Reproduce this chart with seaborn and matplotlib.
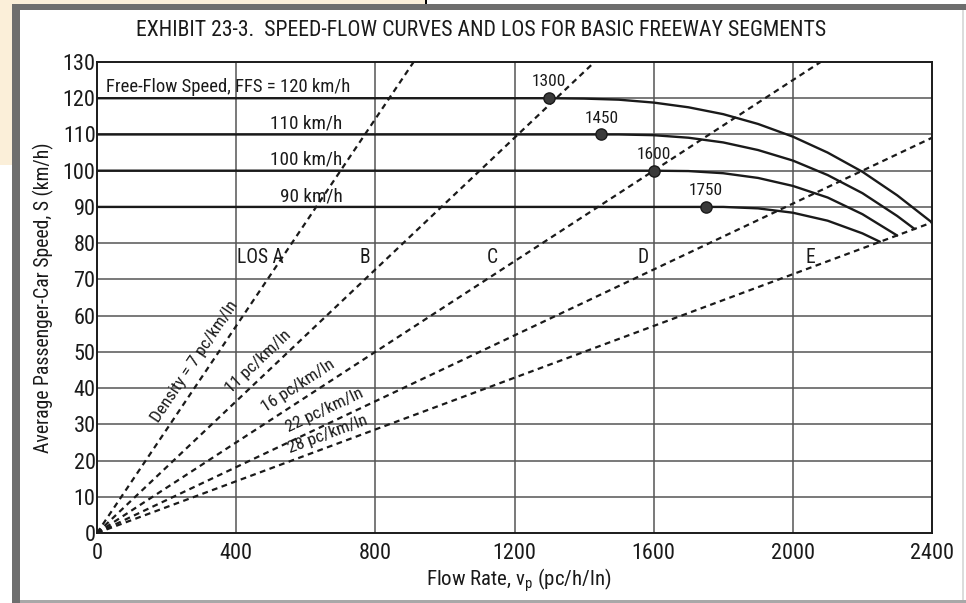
import numpy as np
import pandas as pd
import matplotlib
matplotlib.use('Agg')
import matplotlib.pyplot as plt
from matplotlib.patches import Rectangle
import seaborn as sns

# Speed-flow curves (flow in pc/h/ln, speed in km/h)
flow_120 = [0, 1300, 1400, 1500, 1600, 1700, 1800, 1900, 2000, 2100, 2200, 2300, 2400]
speed_120 = [120, 120, 119.9, 119.6, 118.8, 117.5, 115.6, 112.9, 109.4, 105.0, 99.7, 93.2, 85.7]
flow_110 = [0, 1450, 1500, 1600, 1700, 1800, 1900, 2000, 2100, 2200, 2300, 2350]
speed_110 = [110, 110, 110.0, 109.8, 109.1, 107.8, 105.7, 102.8, 98.8, 93.8, 87.5, 83.9]
flow_100 = [0, 1600, 1700, 1800, 1900, 2000, 2100, 2200, 2300]
speed_100 = [100, 100, 99.9, 99.3, 98.0, 95.8, 92.6, 88.0, 82.1]
flow_90 = [0, 1750, 1800, 1900, 2000, 2100, 2200, 2250]
speed_90 = [90, 90, 90.0, 89.6, 88.4, 86.2, 82.7, 80.4]

# breakpoints where the curves leave free-flow speed
bp_flow = [1300, 1450, 1600, 1750]
bp_speed = [120, 110, 100, 90]

# LOS boundary densities (pc/km/ln)
densities = [7, 11, 16, 22, 28]
density_labels = ['Density = 7 pc/km/ln', '11 pc/km/ln', '16 pc/km/ln',
                  '22 pc/km/ln', '28 pc/km/ln']
los_labels = ['LOS A', 'B', 'C', 'D', 'E']
ffs_labels = ['Free-Flow Speed, FFS = 120 km/h', '110 km/h', '100 km/h', '90 km/h']

x_ticks = [0, 400, 800, 1200, 1600, 2000, 2400]
y_ticks = list(range(0, 131, 10))

W, H = 966, 603
INK = '#1a1a1a'
GRID = '#555555'

sns.set_theme(style='white')
plt.rcParams['font.family'] = ['Liberation Sans Narrow', 'Roboto Condensed', 'Arial Narrow',
                               'Liberation Sans', 'DejaVu Sans']
plt.rcParams['text.color'] = INK


def box(x0, y0, x1, y1):
    """pixel box (top-left origin) -> figure fraction rectangle"""
    return (x0 / W, 1 - y1 / H), (x1 - x0) / W, (y1 - y0) / H


fig = plt.figure(figsize=(W / 100, H / 100), dpi=100)
fig.patch.set_facecolor('white')
renderer = fig.canvas.get_renderer()


def size_for(text, width_px, base=20):
    """font size that makes `text` about width_px wide with whatever font got picked"""
    probe = fig.text(0, 0, text, fontsize=base)
    w = probe.get_window_extent(renderer).width
    probe.remove()
    return base * width_px / w


# slide background and scan frame
for (x0, y0, x1, y1), col in [((0, 0, 426, 4), '#fbefd9'),
                              ((0, 0, 12, 165), '#fbefd9'),
                              ((425, 0, 427, 4), '#000000'),
                              ((12, 4, 966, 10), '#6e6e6e'),
                              ((12, 4, 20, 603), '#6e6e6e'),
                              ((20, 600, 966, 603), '#a8a8a8'),
                              ((962, 10, 964, 600), '#dcdcdc')]:
    xy, w, h = box(x0, y0, x1, y1)
    fig.patches.append(Rectangle(xy, w, h, transform=fig.transFigure,
                                 facecolor=col, edgecolor='none', zorder=0))

(ax_x, ax_y), ax_w, ax_h = box(97, 62, 932, 533)
ax = fig.add_axes([ax_x, ax_y, ax_w, ax_h])
ax.set_xlim(0, 2400)
ax.set_ylim(0, 130)

# grid
for xv in x_ticks[1:-1]:
    ax.axvline(xv, color=GRID, lw=1.1, zorder=1)
for yv in y_ticks[1:-1]:
    ax.axhline(yv, color=GRID, lw=1.1, zorder=1)

# density rays from origin, clipped at the plot frame
for d in densities:
    end = min(2400, 130 * d)
    ray = pd.DataFrame({'flow': [0, end], 'speed': [0, end / d]})
    sns.lineplot(data=ray, x='flow', y='speed', ax=ax, color=INK, lw=1.6,
                 linestyle=(0, (2.6, 2.0)), sort=False, estimator=None, zorder=3)

# speed-flow curves
curves = pd.concat([
    pd.DataFrame({'flow': f, 'speed': s, 'ffs': k})
    for f, s, k in [(flow_120, speed_120, 120), (flow_110, speed_110, 110),
                    (flow_100, speed_100, 100), (flow_90, speed_90, 90)]
])
sns.lineplot(data=curves, x='flow', y='speed', hue='ffs', units='ffs',
             palette=[INK] * 4, estimator=None, sort=False, lw=1.7,
             legend=False, ax=ax, zorder=4)

sns.scatterplot(x=bp_flow, y=bp_speed, s=65, color='#3a3a3a',
                edgecolor=INK, linewidth=1.0, ax=ax, zorder=5)
fs_bp = size_for('1300', 34)
for f, s in zip(bp_flow, bp_speed):
    ax.text(f, s + 4.5, str(f), ha='center', va='center', fontsize=fs_bp)

# FFS labels
ax.text(25, 123.0, ffs_labels[0], ha='left', va='center',
        fontsize=size_for(ffs_labels[0], 245))
fs_kmh = size_for(ffs_labels[1], 72)
for lab, s in zip(ffs_labels[1:], [110, 100, 90]):
    ax.text(705, s + 3.0, lab, ha='right', va='center', fontsize=fs_kmh)

# LOS labels
fs_los = size_for('LOS A', 47)
for lab, xv in zip(los_labels, [470, 770, 1135, 1570, 2050]):
    ax.text(xv, 76, lab, ha='center', va='center', fontsize=fs_los)

# density labels along the rays, pushed off to the upper-left side
p0 = ax.transData.transform((0, 0))
fs_dens = size_for('11 pc/km/ln', 84)
for d, lab, fx, off in zip(densities, density_labels, [315, 490, 600, 670, 675],
                           [10.5, 9.5, 9.5, 9.5, 8.5]):
    p1 = ax.transData.transform((2400, 2400 / d))
    ang = np.arctan2(p1[1] - p0[1], p1[0] - p0[0])
    ax.annotate(lab, xy=(fx, fx / d), xytext=(-np.sin(ang) * off, np.cos(ang) * off),
                textcoords='offset points', ha='center', va='center',
                rotation=np.degrees(ang), rotation_mode='anchor', fontsize=fs_dens)

ax.set_xticks(x_ticks)
ax.set_yticks(y_ticks)
ax.tick_params(length=0, labelsize=size_for('130', 33), colors=INK)
ax.tick_params(axis='y', pad=1.0)
ax.tick_params(axis='x', pad=7)
for sp in ax.spines.values():
    sp.set_visible(True)
    sp.set_color(INK)
    sp.set_linewidth(1.4)
ax.set_xlabel('')
ax.set_ylabel('')

xlab = 'Flow Rate, v$_\\mathregular{p}$ (pc/h/ln)'
fig.text(519 / W, 1 - 580 / H, xlab, ha='center', va='center',
         fontsize=size_for(xlab, 185))
ylab = 'Average Passenger-Car Speed, S (km/h)'
fig.text(43 / W, 1 - 298 / H, ylab, ha='center', va='center', rotation=90,
         fontsize=size_for(ylab, 310))
title = 'EXHIBIT 23-3.  SPEED-FLOW CURVES AND LOS FOR BASIC FREEWAY SEGMENTS'
fig.text(481 / W, 1 - 30 / H, title, ha='center', va='center',
         fontsize=size_for(title, 690))

fig.savefig('out.png', dpi=100)
